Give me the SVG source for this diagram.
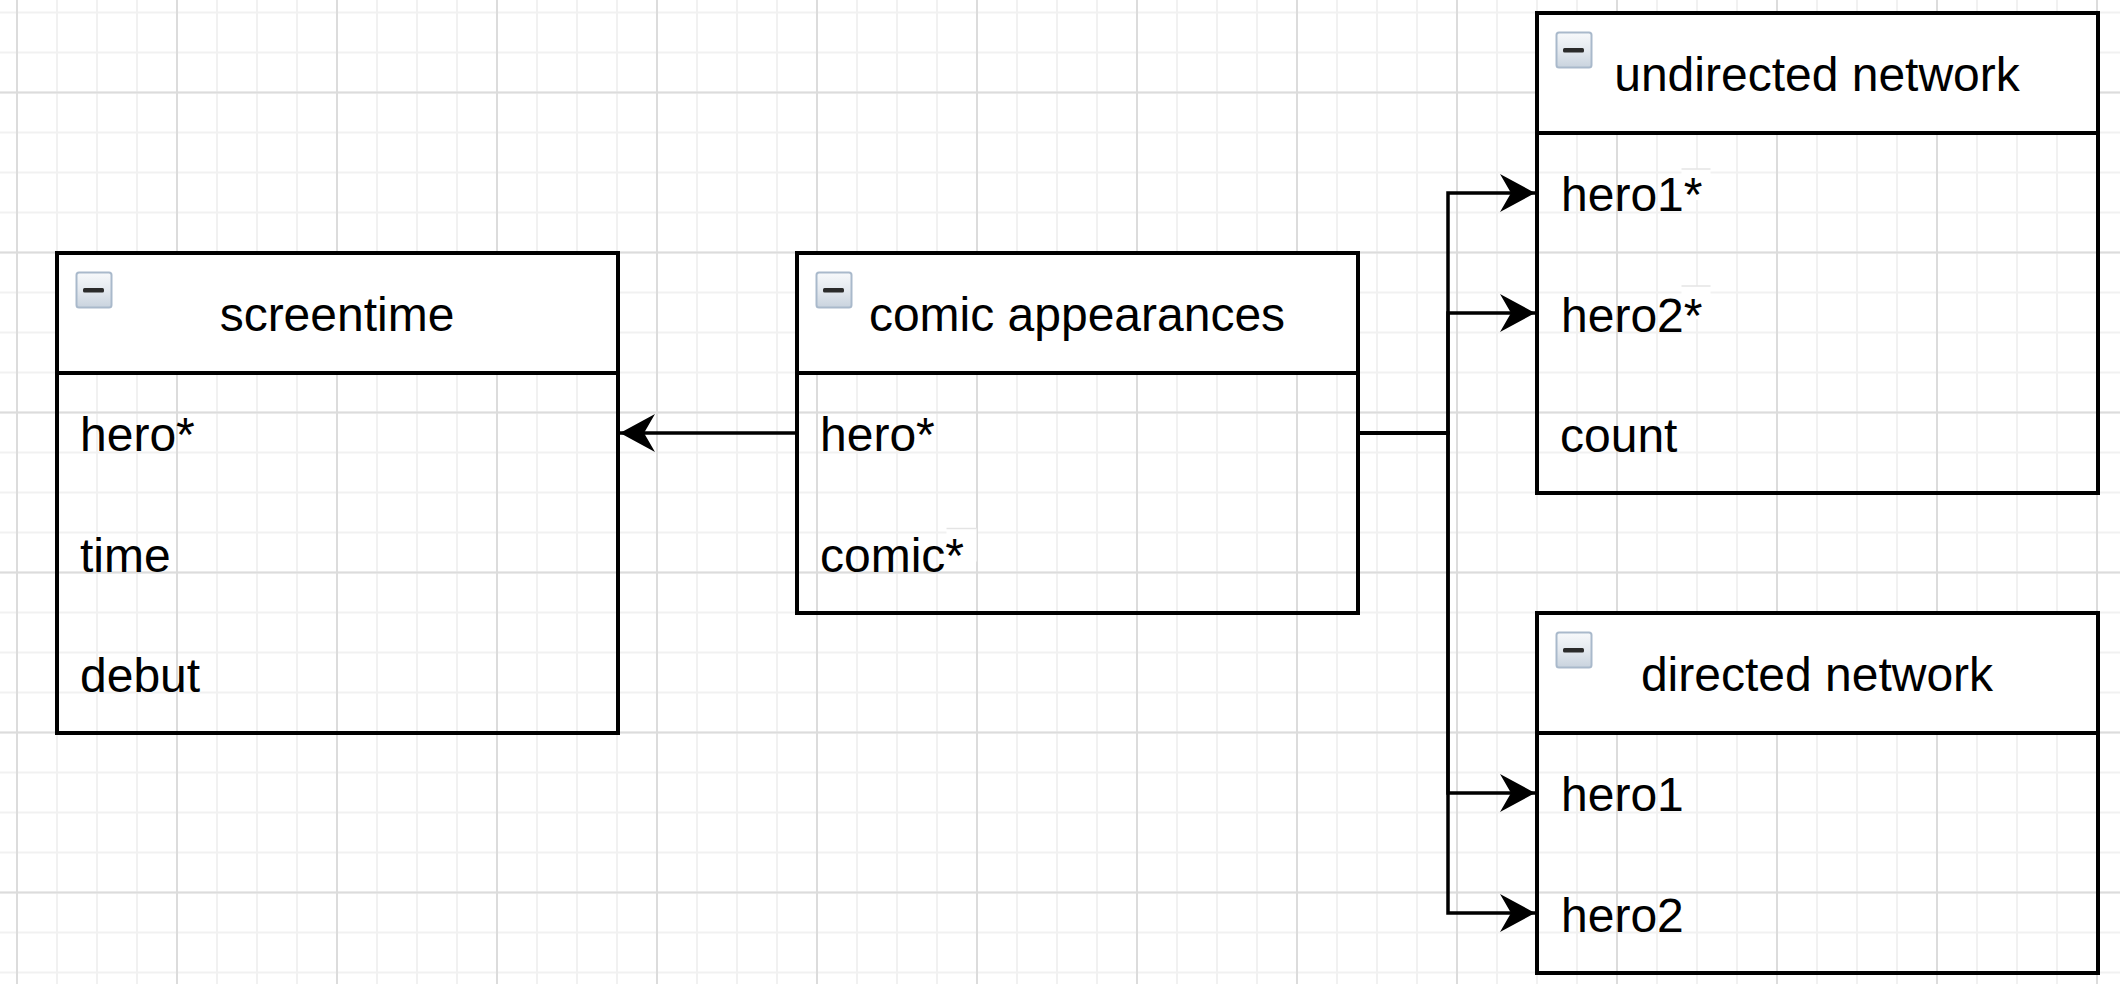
<svg xmlns="http://www.w3.org/2000/svg" width="2120" height="984" viewBox="0 0 2120 984">
<defs>
<pattern id="gridMinor" patternUnits="userSpaceOnUse" x="-3" y="-7.5" width="40" height="40">
<path d="M20,0 V40 M0,20 H40" stroke="#f1f1f1" stroke-width="2" fill="none"/>
</pattern>
<pattern id="gridMajor" patternUnits="userSpaceOnUse" x="-63" y="12.5" width="160" height="160">
<path d="M80,0 V160 M0,80 H160" stroke="#dcdcdc" stroke-width="2" fill="none"/>
</pattern>
<linearGradient id="iconFill" x1="0" y1="0" x2="0" y2="1">
<stop offset="0" stop-color="#f7f9fb"/>
<stop offset="0.5" stop-color="#e4e9ef"/>
<stop offset="1" stop-color="#c9d3de"/>
</linearGradient>
<marker id="arrow" markerUnits="userSpaceOnUse" viewBox="0 0 36 38" markerWidth="36" markerHeight="38" refX="35" refY="19" orient="auto">
<path d="M0,0 L35,19 L0,38 L11,19 Z" fill="#000"/>
</marker>
<g id="icon">
<rect x="0.5" y="0.5" width="35" height="35" rx="2.5" fill="url(#iconFill)" stroke="#a9b9cb" stroke-width="2"/>
<rect x="7" y="16" width="21" height="4.5" rx="1.5" fill="#2b2b2b"/>
</g>
</defs>
<style>
.hdr { fill: #ffffff; stroke: none; }
.box { fill: none; stroke: #000; stroke-width: 4; }
.sep { stroke: #000; stroke-width: 4; }
.t { font-family: "Liberation Sans", Arial, Helvetica, sans-serif; font-size: 48px; fill: #000; }
.title { text-anchor: middle; }
.edge { fill: none; stroke: #000; stroke-width: 3.5; stroke-linejoin: miter; marker-end: url(#arrow); }
.patch { fill: #ffffff; stroke: none; }
.patchEdge { stroke: #e4e4e4; stroke-width: 1.5; fill: none; }
</style>
<rect x="0" y="0" width="2120" height="984" fill="#ffffff"/>
<rect x="0" y="0" width="2120" height="984" fill="url(#gridMinor)"/>
<rect x="0" y="0" width="2120" height="984" fill="url(#gridMajor)"/>

<g id="connectors">
<path class="edge" d="M797,433 H620"/>
<path class="edge" d="M1358,433 H1448 V193 H1535"/>
<path class="edge" d="M1358,433 H1448 V313 H1535"/>
<path class="edge" d="M1358,433 H1448 V793 H1535"/>
<path class="edge" d="M1358,433 H1448 V913 H1535"/>
</g>

<g id="screentime">
<rect class="hdr" x="57" y="253" width="561" height="120"/>
<rect class="box" x="57" y="253" width="561" height="480"/>
<line class="sep" x1="57" y1="373" x2="618" y2="373"/>
<use href="#icon" x="76" y="272"/>
<text class="t title" x="337" y="331">screentime</text>
<text class="t" x="80" y="451">hero*</text>
<text class="t" x="80" y="571.5">time</text>
<text class="t" x="80" y="691.5">debut</text>
</g>

<g id="comic-appearances">
<rect class="hdr" x="797" y="253" width="561" height="120"/>
<rect class="box" x="797" y="253" width="561" height="360"/>
<line class="sep" x1="797" y1="373" x2="1358" y2="373"/>
<use href="#icon" x="816" y="272"/>
<text class="t title" x="1077" y="331">comic appearances</text>
<text class="t" x="820" y="451">hero*</text>
<rect class="patch" x="946.5" y="528.5" width="30" height="33"/>
<path class="patchEdge" d="M946.5,528.5 H976.5"/>
<text class="t" x="820" y="571.5">comic*</text>
</g>

<g id="undirected-network">
<rect class="hdr" x="1537" y="13" width="561" height="120"/>
<rect class="box" x="1537" y="13" width="561" height="480"/>
<line class="sep" x1="1537" y1="133" x2="2098" y2="133"/>
<use href="#icon" x="1556" y="32"/>
<text class="t title" x="1817" y="91">undirected network</text>
<rect class="patch" x="1681.5" y="169" width="29" height="31"/>
<path class="patchEdge" d="M1681.5,169 H1710.5"/>
<text class="t" x="1561" y="211">hero1*</text>
<rect class="patch" x="1681.5" y="286" width="29" height="33"/>
<path class="patchEdge" d="M1681.5,286 H1710.5"/>
<text class="t" x="1561" y="331.5">hero2*</text>
<text class="t" x="1560" y="451.5">count</text>
</g>

<g id="directed-network">
<rect class="hdr" x="1537" y="613" width="561" height="120"/>
<rect class="box" x="1537" y="613" width="561" height="360"/>
<line class="sep" x1="1537" y1="733" x2="2098" y2="733"/>
<use href="#icon" x="1556" y="632"/>
<text class="t title" x="1817" y="691">directed network</text>
<text class="t" x="1561" y="811">hero1</text>
<text class="t" x="1561" y="931.5">hero2</text>
</g>
</svg>
